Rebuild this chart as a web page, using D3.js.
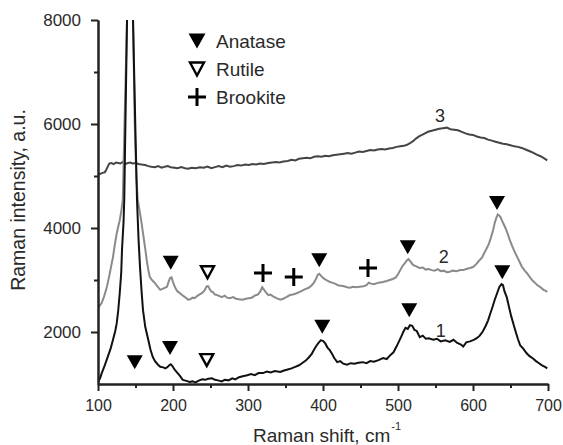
<!DOCTYPE html>
<html>
<head>
<meta charset="utf-8">
<script src="https://cdn.jsdelivr.net/npm/d3@7"></script>
<style>
  body { margin: 0; background: #fff; }
  text { font-family: "Liberation Sans", Arial, sans-serif; fill: #2a2a2a; }
  .axis path, .axis line { stroke: #222; stroke-width: 2; }
</style>
</head>
<body>
<div id="chart-area"></div>
<script>
// SVG size
var width = 563,
    height = 445;

// Spectrum 1 (black), [Raman shift, intensity]
var spectrum1 = [
  [100,1040],[103,1120],[105,1210],[109,1360],[113,1520],[117,1690],[120,1850],[123,2020],
  [125,2170],[127,2420],[129,2750],[131,3150],[132,3580],[134,4100],[135,4540],[138.7,8000],
  [142.5,12500],[146.7,8000],[150,5800],[152,4540],[154,3800],[156,3250],[158,2800],[160,2420],
  [163,2100],[167,1850],[170,1660],[173,1520],[176,1440],[180,1370],[183,1330],[187,1320],
  [190,1300],[193,1330],[195,1360],[197,1380],[199,1350],[202,1280],[205,1230],[209,1160],
  [213,1080],[218,1060],[222,1040],[226,1050],[230,1030],[235,1070],[239,1090],[243,1080],
  [247,1100],[252,1110],[256,1080],[260,1070],[265,1050],[269,1080],[274,1070],[279,1110],
  [283,1090],[288,1130],[293,1150],[299,1170],[304,1190],[309,1170],[314,1210],[320,1210],
  [325,1240],[330,1220],[336,1250],[343,1230],[348,1260],[353,1280],[358,1300],[363,1330],
  [368,1360],[372,1400],[377,1450],[381,1510],[385,1580],[388,1660],[391,1730],[394,1790],
  [397,1840],[400,1830],[403,1780],[406,1700],[409,1650],[412,1580],[415,1500],[419,1420],
  [423,1440],[427,1390],[432,1370],[437,1400],[442,1390],[447,1410],[453,1420],[458,1400],
  [463,1440],[468,1430],[474,1460],[480,1500],[485,1480],[490,1560],[494,1610],[498,1720],
  [501,1810],[504,1900],[507,2000],[510,2080],[513,2060],[516,2130],[519,2120],[522,2040],
  [525,2020],[529,1900],[533,1930],[537,1870],[541,1880],[547,1850],[552,1870],[557,1820],
  [563,1840],[569,1810],[574,1850],[579,1790],[584,1760],[587,1720],[591,1800],[596,1820],
  [601,1850],[605,1880],[609,1930],[613,2010],[617,2120],[620,2220],[623,2350],[626,2480],
  [629,2620],[632,2740],[635,2860],[638,2920],[640,2900],[642,2780],[645,2670],[648,2480],
  [651,2300],[654,2150],[657,2000],[660,1860],[663,1740],[667,1680],[671,1600],[675,1540],
  [680,1490],[684,1440],[688,1400],[692,1360],[696,1330],[699,1300]
];

// Spectrum 2 (grey)
var spectrum2 = [
  [100,2460],[103,2520],[105,2560],[108,2680],[111,2820],[113,2940],[116,3150],[118,3300],
  [120,3440],[122,3640],[125,3900],[127,4030],[129,4150],[131,4320],[133,4540],[135,5800],
  [138.7,8000],[142.5,12500],[146.7,8000],[149,6000],[151,5000],[153,4540],[157,4200],[160,3900],
  [163,3600],[165,3380],[167,3200],[169,3060],[172,3000],[176,2940],[179,2880],[183,2810],
  [186,2830],[189,2850],[192,2870],[194,2960],[196,3040],[198,3050],[200,2960],[203,2850],
  [206,2780],[209,2750],[212,2710],[215,2680],[218,2650],[220,2620],[223,2630],[226,2660],
  [229,2650],[232,2690],[235,2720],[239,2750],[242,2800],[245,2880],[247,2880],[249,2820],
  [251,2780],[253,2770],[256,2720],[259,2710],[262,2690],[265,2670],[269,2700],[272,2660],
  [276,2650],[280,2670],[284,2640],[288,2630],[293,2620],[297,2640],[301,2650],[305,2660],
  [309,2700],[313,2720],[316,2770],[319,2860],[321,2820],[324,2760],[327,2710],[330,2720],
  [334,2680],[338,2650],[343,2620],[347,2640],[351,2670],[356,2710],[360,2720],[364,2740],
  [369,2770],[373,2800],[377,2830],[381,2850],[385,2900],[388,2950],[391,3030],[393,3100],
  [395,3120],[398,3070],[401,3030],[404,3000],[408,2970],[412,2950],[416,2930],[420,2900],
  [424,2890],[428,2880],[432,2860],[436,2850],[440,2870],[444,2860],[449,2870],[454,2880],
  [458,2900],[461,2950],[464,2930],[468,2920],[472,2940],[476,2950],[480,2960],[485,2980],
  [489,3000],[493,3020],[497,3050],[500,3110],[503,3190],[506,3270],[509,3320],[512,3380],
  [514,3400],[517,3350],[520,3290],[523,3270],[526,3250],[529,3230],[533,3240],[537,3200],
  [541,3210],[545,3190],[549,3180],[553,3210],[557,3170],[561,3180],[565,3150],[569,3160],
  [573,3180],[578,3170],[583,3190],[587,3190],[591,3210],[596,3230],[600,3250],[604,3300],
  [608,3370],[612,3430],[615,3520],[618,3600],[621,3690],[624,3820],[627,3970],[629,4100],
  [631,4190],[633,4260],[635,4240],[637,4200],[640,4100],[643,4010],[646,3900],[649,3770],
  [652,3660],[655,3560],[659,3440],[662,3350],[665,3260],[669,3180],[672,3130],[676,3050],
  [680,2980],[683,2940],[686,2900],[690,2860],[694,2810],[697,2790],[699,2770]
];

// Spectrum 3 (dark grey)
var spectrum3 = [
  [100,5020],[103,5040],[106,5060],[109,5070],[111,5120],[113,5180],[115,5240],[118,5250],
  [121,5230],[124,5260],[127,5250],[130,5240],[133,5270],[136,5230],[140,5250],[143,5260],
  [146,5240],[150,5250],[154,5230],[158,5220],[163,5210],[167,5190],[171,5180],[176,5170],
  [180,5190],[185,5160],[189,5180],[193,5190],[197,5170],[202,5160],[206,5150],[211,5170],
  [216,5150],[220,5140],[225,5160],[230,5150],[236,5170],[241,5160],[246,5180],[251,5150],
  [256,5170],[261,5190],[266,5170],[271,5200],[276,5180],[281,5190],[286,5210],[291,5200],
  [296,5220],[301,5210],[306,5230],[311,5220],[316,5240],[321,5230],[327,5250],[332,5260],
  [337,5270],[342,5260],[347,5280],[353,5290],[358,5310],[363,5300],[368,5330],[373,5340],
  [378,5350],[383,5340],[388,5370],[393,5380],[398,5370],[403,5390],[408,5380],[413,5400],
  [418,5410],[423,5420],[428,5430],[433,5440],[438,5430],[443,5450],[448,5470],[453,5460],
  [458,5480],[463,5500],[468,5490],[473,5510],[478,5520],[483,5510],[488,5530],[493,5540],
  [498,5560],[503,5570],[508,5580],[512,5600],[516,5630],[520,5670],[524,5720],[528,5760],
  [532,5790],[536,5820],[540,5850],[545,5870],[550,5890],[555,5910],[560,5920],[565,5930],
  [570,5900],[575,5890],[580,5880],[585,5850],[590,5820],[595,5800],[600,5790],[605,5760],
  [610,5740],[615,5730],[620,5700],[625,5680],[630,5660],[635,5640],[640,5620],[645,5610],
  [650,5590],[655,5570],[660,5560],[665,5540],[670,5510],[675,5480],[680,5450],[685,5410],
  [690,5380],[695,5340],[699,5300]
];

// Phase markers [shift, intensity]
var anataseMarks = [[149,1420],[196,1690],[197,3330],[399,2100],[395,3380],[515,2420],[513,3630],[639,3150],[632,4480]];
var rutileMarks = [[246,3150],[245,1460]];
var brookiteMarks = [[320,3135],[361,3060],[460,3230]];

// Curve number labels
var curveLabels = [
  {text: "1", x: 557, y: 1900},
  {text: "2", x: 561, y: 3320},
  {text: "3", x: 556, y: 6030}
];

var legendItems = ["Anatase", "Rutile", "Brookite"];
var xTicks = [100, 200, 300, 400, 500, 600, 700];
var xMinor = [150, 250, 350, 450, 550, 650];
var yTicks = [2000, 4000, 6000, 8000];
var yMinor = [3000, 5000, 7000];

var svg = d3.select("#chart-area").append("svg")
    .attr("width", width)
    .attr("height", height);

var x = d3.scaleLinear().domain([100, 700]).range([98, 548]);
var y = d3.scaleLinear().domain([1000, 8000]).range([384, 20]);

svg.append("clipPath").attr("id", "plot-clip")
    .append("rect")
    .attr("x", 98).attr("y", 20)
    .attr("width", 452).attr("height", 366);

var line = d3.line()
    .x(function(d){ return x(d[0]); })
    .y(function(d){ return y(d[1]); });

var plot = svg.append("g").attr("clip-path", "url(#plot-clip)");

plot.append("path").datum(spectrum3)
    .attr("d", line).attr("fill", "none")
    .attr("stroke", "#444").attr("stroke-width", 2);

plot.append("path").datum(spectrum2)
    .attr("d", line).attr("fill", "none")
    .attr("stroke", "#8a8a8a").attr("stroke-width", 2);

plot.append("path").datum(spectrum1)
    .attr("d", line).attr("fill", "none")
    .attr("stroke", "#111").attr("stroke-width", 2);

// axes
var xAxis = d3.axisBottom(x).tickValues(xTicks).tickSize(7).tickSizeOuter(0).tickPadding(9)
    .tickFormat(d3.format("d"));
var xAxisMinor = d3.axisBottom(x).tickValues(xMinor).tickSize(4).tickSizeOuter(0).tickFormat("");
var yAxis = d3.axisLeft(y).tickValues(yTicks).tickSize(7).tickSizeOuter(0).tickPadding(10)
    .tickFormat(d3.format("d"));
var yAxisMinor = d3.axisLeft(y).tickValues(yMinor).tickSize(4).tickSizeOuter(0).tickFormat("");

svg.append("g").attr("class", "axis x-axis")
    .attr("transform", "translate(0,384)")
    .call(xAxis)
    .selectAll("text").style("font-size", "16px").style("font-family", "Liberation Sans, Arial, sans-serif").attr("fill", "#2a2a2a");

svg.append("g").attr("class", "axis x-axis minor")
    .attr("transform", "translate(0,384)")
    .call(xAxisMinor);

svg.append("g").attr("class", "axis y-axis")
    .attr("transform", "translate(98,0)")
    .call(yAxis)
    .selectAll("text").style("font-size", "17px").style("font-family", "Liberation Sans, Arial, sans-serif").attr("fill", "#2a2a2a");

svg.append("g").attr("class", "axis y-axis minor")
    .attr("transform", "translate(98,0)")
    .call(yAxisMinor);

// axis titles
var xTitle = svg.append("text")
    .attr("x", 327).attr("y", 442)
    .attr("text-anchor", "middle")
    .style("font-size", "19px");
xTitle.append("tspan").text("Raman shift, cm");
xTitle.append("tspan").attr("dy", -12).attr("dx", 1).style("font-size", "11px").text("-1");

svg.append("text")
    .attr("transform", "translate(25,200) rotate(-90)")
    .attr("text-anchor", "middle")
    .style("font-size", "19.5px")
    .text("Raman intensity, a.u.");

// marker shapes
function triangle(w, h) {
    return "M" + (-w/2) + "," + (-h/2) + "L" + (w/2) + "," + (-h/2) + "L0," + (h/2) + "Z";
}
function plus(s) {
    return "M" + (-s/2) + ",0L" + (s/2) + ",0M0," + (-s/2) + "L0," + (s/2);
}

svg.selectAll(".anatase")
    .data(anataseMarks).enter()
    .append("path").attr("class", "anatase")
    .attr("d", triangle(16, 14))
    .attr("transform", function(d){ return "translate(" + x(d[0]) + "," + y(d[1]) + ")"; })
    .attr("fill", "#000");

svg.selectAll(".rutile")
    .data(rutileMarks).enter()
    .append("path").attr("class", "rutile")
    .attr("d", triangle(13, 12))
    .attr("transform", function(d){ return "translate(" + x(d[0]) + "," + y(d[1]) + ")"; })
    .attr("fill", "#fff").attr("stroke", "#000").attr("stroke-width", 2.4);

svg.selectAll(".brookite")
    .data(brookiteMarks).enter()
    .append("path").attr("class", "brookite")
    .attr("d", plus(18))
    .attr("transform", function(d){ return "translate(" + x(d[0]) + "," + y(d[1]) + ")"; })
    .attr("fill", "none").attr("stroke", "#000").attr("stroke-width", 3);

// curve numbers
svg.selectAll(".curve-label")
    .data(curveLabels).enter()
    .append("text").attr("class", "curve-label")
    .attr("x", function(d){ return x(d.x); })
    .attr("y", function(d){ return y(d.y); })
    .attr("text-anchor", "middle")
    .style("font-size", "18px")
    .text(function(d){ return d.text; });

// legend
var legend = svg.append("g").attr("transform", "translate(197,0)");
legend.append("path").attr("d", triangle(17, 15))
    .attr("transform", "translate(0,41)").attr("fill", "#000");
legend.append("path").attr("d", triangle(14, 13))
    .attr("transform", "translate(0,69)")
    .attr("fill", "#fff").attr("stroke", "#000").attr("stroke-width", 2.4);
legend.append("path").attr("d", plus(18))
    .attr("transform", "translate(0,97)")
    .attr("fill", "none").attr("stroke", "#000").attr("stroke-width", 3);

legend.selectAll(".legend-text")
    .data(legendItems).enter()
    .append("text").attr("class", "legend-text")
    .attr("x", 19)
    .attr("y", function(d, i){ return 48 + i * 28; })
    .style("font-size", "19px")
    .text(function(d){ return d; });
</script>
</body>
</html>
